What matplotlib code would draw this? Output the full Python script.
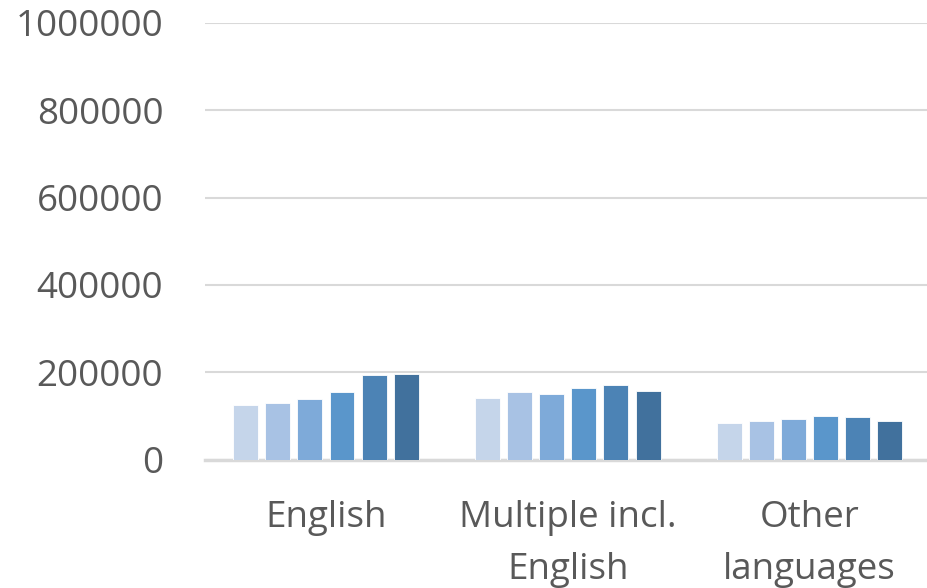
import matplotlib
matplotlib.use("Agg")
import matplotlib.pyplot as plt
import numpy as np

categories = ["English", "Multiple incl.\nEnglish", "Other\nlanguages"]
series_names = ["S1", "S2", "S3", "S4", "S5", "S6"]
values = [
    [125400, 142000, 84500],
    [130000, 155000, 88500],
    [137600, 150000, 92400],
    [153800, 164000, 99300],
    [193000, 171000, 97700],
    [197000, 157000, 87800],
]
colors = ["#C5D5EA", "#A8C2E4", "#7EAAD9", "#5A96CB", "#4C83B5", "#41719D"]
yticks = [0, 200000, 400000, 600000, 800000, 1000000]

plt.rcParams['font.family'] = ['Open Sans', 'DejaVu Sans']
fig = plt.figure(figsize=(9.28, 5.88), dpi=100)
ax = fig.add_axes([205/928, 1-459.5/588, 1-205/928, (459.5-23)/588])

x = np.arange(len(categories))
slot = 0.133
bw = 0.103
n = len(values)
for i, (name, vals) in enumerate(zip(series_names, values)):
    ax.bar(x + (i - (n-1)/2) * slot, vals, width=bw, color=colors[i],
           label=name, zorder=3, edgecolor='white', linewidth=0.6)

ax.set_xlim(-0.5, 2.49)
ax.set_ylim(0, 1000000)
ax.set_yticks(yticks)
ax.set_yticklabels([str(v) for v in yticks])
ax.set_xticks(x)
ax.set_xticklabels(categories, linespacing=1.6)
ax.tick_params(axis='y', length=0, pad=30, labelsize=26.5, labelcolor='#595959')
ax.tick_params(axis='x', length=0, pad=29, labelsize=26.5, labelcolor='#595959')
ax.grid(axis='y', color='#D9D9D9', linewidth=1.5, zorder=0)
for s in ['top', 'right', 'left']:
    ax.spines[s].set_visible(False)
ax.spines['bottom'].set_color('#D9D9D9')
ax.spines['bottom'].set_linewidth(2.5)

fig.savefig("out.png", dpi=100)
